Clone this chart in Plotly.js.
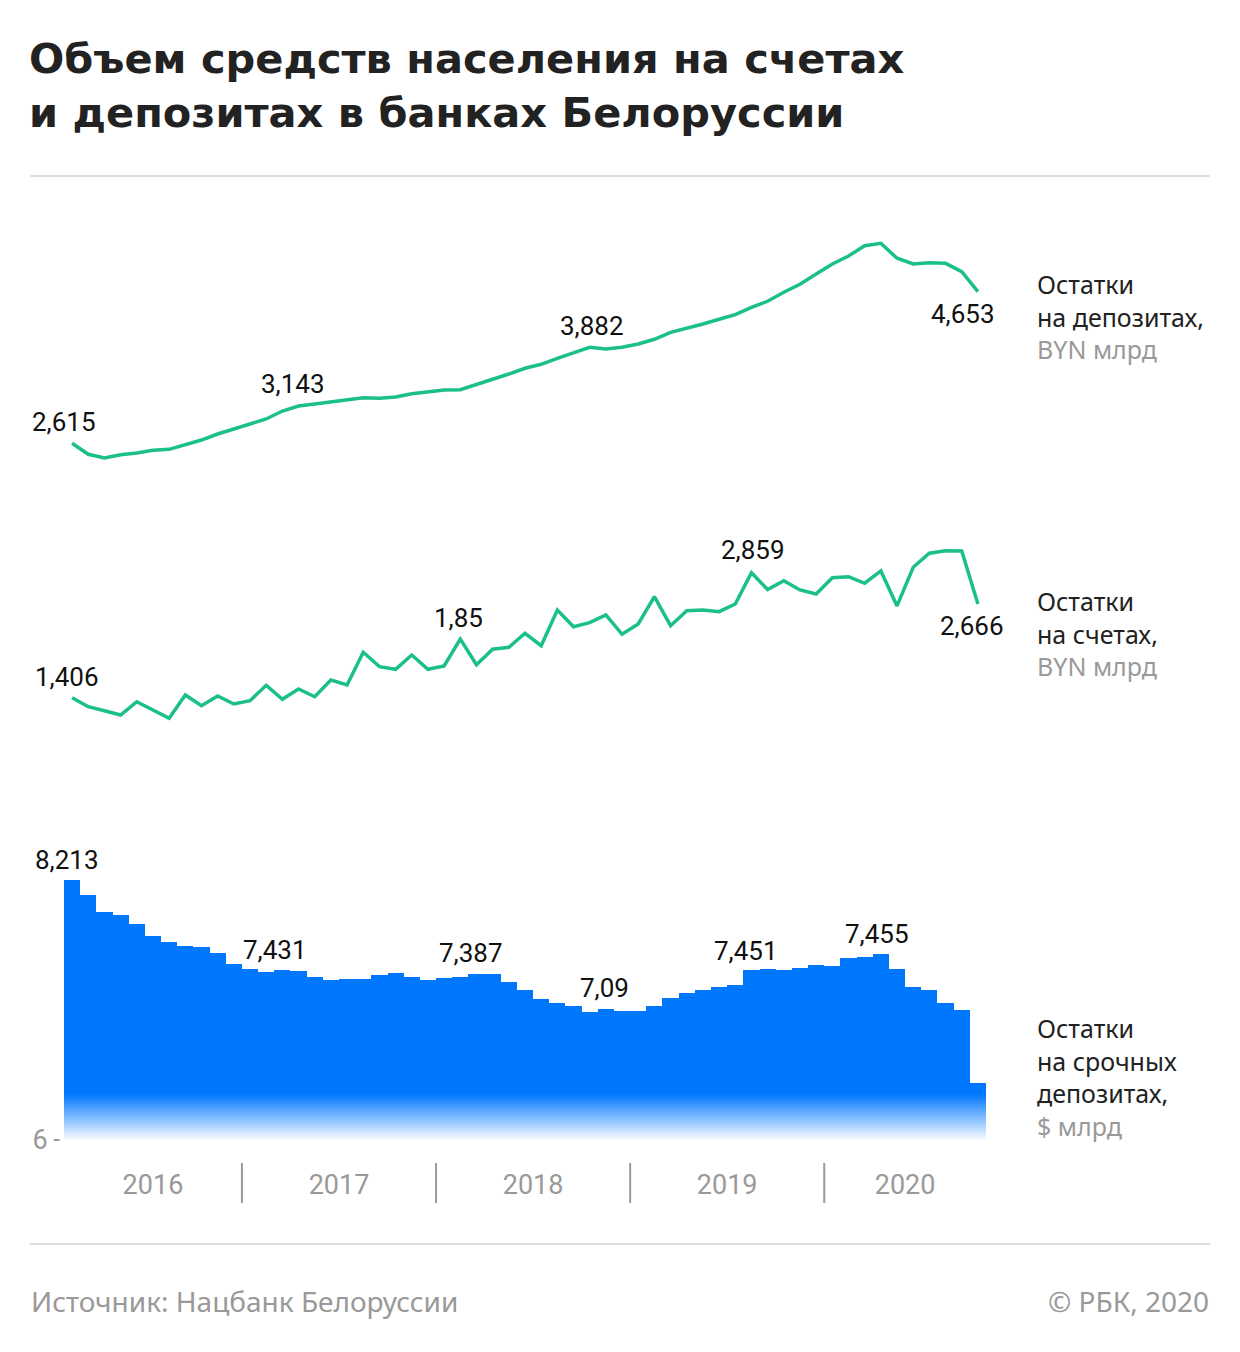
<!DOCTYPE html>
<html>
<head>
<meta charset="utf-8">
<script src="https://cdn.plot.ly/plotly-3.0.1.min.js"></script>
<style>
  html, body { margin: 0; padding: 0; background: #ffffff; }
  #chart { width: 1240px; height: 1352px; }
</style>
</head>
<body>
<div id="chart"></div>
<script>
// ---------- DATA ----------
const months = [
  '2016-02','2016-03','2016-04','2016-05','2016-06','2016-07','2016-08','2016-09','2016-10','2016-11','2016-12',
  '2017-01','2017-02','2017-03','2017-04','2017-05','2017-06','2017-07','2017-08','2017-09','2017-10','2017-11','2017-12',
  '2018-01','2018-02','2018-03','2018-04','2018-05','2018-06','2018-07','2018-08','2018-09','2018-10','2018-11','2018-12',
  '2019-01','2019-02','2019-03','2019-04','2019-05','2019-06','2019-07','2019-08','2019-09','2019-10','2019-11','2019-12',
  '2020-01','2020-02','2020-03','2020-04','2020-05','2020-06','2020-07','2020-08','2020-09','2020-10'
];

// Остатки на депозитах, BYN млрд
const deposits = [
  2.615, 2.467, 2.417, 2.462, 2.485, 2.521, 2.534, 2.592, 2.659, 2.740,
  2.811, 2.878, 2.942, 3.049, 3.116, 3.143, 3.170, 3.206, 3.228, 3.220,
  3.237, 3.282, 3.309, 3.331, 3.335, 3.403, 3.475, 3.546, 3.623, 3.677,
  3.757, 3.825, 3.905, 3.882, 3.905, 3.950, 4.013, 4.107, 4.161, 4.218,
  4.282, 4.344, 4.443, 4.524, 4.645, 4.752, 4.891, 5.025, 5.133, 5.271,
  5.303, 5.102, 5.025, 5.043, 5.034, 4.922, 4.653
];

// Остатки на счетах, BYN млрд
const accounts = [
  1.406, 1.285, 1.231, 1.173, 1.352, 1.241, 1.129, 1.442, 1.298, 1.429,
  1.321, 1.366, 1.573, 1.384, 1.523, 1.419, 1.644, 1.577, 2.016, 1.823,
  1.788, 1.980, 1.788, 1.832, 2.195, 1.850, 2.057, 2.083, 2.272, 2.105,
  2.585, 2.360, 2.414, 2.518, 2.258, 2.397, 2.763, 2.374, 2.575, 2.585,
  2.562, 2.665, 3.086, 2.859, 2.979, 2.854, 2.800, 3.019, 3.032, 2.944,
  3.109, 2.639, 3.159, 3.347, 3.382, 3.378, 2.666
];

// Остатки на срочных депозитах, $ млрд
const termDeposits = [
  8.213, 8.085, 7.943, 7.915, 7.836, 7.734, 7.682, 7.654, 7.640, 7.589,
  7.498, 7.453, 7.431, 7.450, 7.436, 7.390, 7.364, 7.373, 7.367, 7.407,
  7.424, 7.390, 7.364, 7.379, 7.387, 7.410, 7.410, 7.345, 7.277, 7.200,
  7.163, 7.143, 7.090, 7.112, 7.098, 7.098, 7.140, 7.209, 7.254, 7.277,
  7.305, 7.319, 7.451, 7.453, 7.447, 7.464, 7.487, 7.483, 7.546, 7.560,
  7.580, 7.455, 7.305, 7.274, 7.163, 7.106, 6.482
];

const years = ['2016', '2017', '2018', '2019', '2020'];

// indices of labelled points
const depositsLabelIdx = [0, 15, 33, 56];
const accountsLabelIdx = [0, 25, 43, 56];
const termLabelIdx = [0, 12, 24, 32, 42, 51];

const seriesNames = [
  'Остатки<br>на депозитах,<br><span style="color:#999999">BYN млрд</span>',
  'Остатки<br>на счетах,<br><span style="color:#999999">BYN млрд</span>',
  'Остатки<br>на срочных<br>депозитах,<br><span style="color:#999999">$ млрд</span>'
];
const titleText = 'Объем средств населения на счетах<br>и депозитах в банках Белоруссии';
const sourceText = 'Источник: Нацбанк Белоруссии';
const copyrightText = '© РБК, 2020';

// ---------- LAYOUT HELPERS ----------
const xIdx = months.map((m, i) => i);
const fmt = v => String(v).replace('.', ',');

const GREEN = '#1bbf8a';
const BLUE = '#0077ff';
const GREY = '#999999';
const DARK = '#222222';
const FONT = 'Roboto, "Noto Sans", sans-serif';
const TFONT = '"Noto Sans", Roboto, sans-serif';

// plot area: x 64..986 px, y 200..1160 px
const W = 1240, H = 1352, ML = 64, MR = 254, MT = 200, MB = 192;
const plotH = H - MT - MB;                 // 960
const py = p => (H - MB - p) / plotH;      // pixel y -> paper y
const plotW = W - ML - MR;                 // 922
const px = p => (p - ML) / plotW;          // pixel x -> paper x

const traces = [
  {
    type: 'bar', x: xIdx, y: termDeposits,
    marker: { color: BLUE, line: { width: 0 } },
    xaxis: 'x', yaxis: 'y', hovertext: months, hoverinfo: 'text+y',
    width: 1
  },
  {
    type: 'scatter', mode: 'lines', x: xIdx, y: accounts,
    line: { color: GREEN, width: 3.5 },
    xaxis: 'x', yaxis: 'y2', cliponaxis: false, hovertext: months
  },
  {
    type: 'scatter', mode: 'lines', x: xIdx, y: deposits,
    line: { color: GREEN, width: 3.5 },
    xaxis: 'x', yaxis: 'y3', cliponaxis: false, hovertext: months
  }
];

const annotations = [];
const labelFont = { family: FONT, size: 26, color: '#111111' };

const depShift = [[-8, 21], [-22, 20], [-14, 23], [-15, -22]];
depositsLabelIdx.forEach((i, k) => annotations.push({
  x: i, y: deposits[i], xref: 'x', yref: 'y3', text: fmt(deposits[i]),
  showarrow: false, xshift: depShift[k][0], yshift: depShift[k][1], font: labelFont
}));
const accShift = [[-5, 21], [-18, 47], [-15, 40], [-6, -22]];
accountsLabelIdx.forEach((i, k) => annotations.push({
  x: i, y: accounts[i], xref: 'x', yref: 'y2', text: fmt(accounts[i]),
  showarrow: false, xshift: accShift[k][0], yshift: accShift[k][1], font: labelFont
}));
const termShift = [[-5, 20], [9, 22], [11, 24], [15, 24], [-5, 19], [-20, 35]];
termLabelIdx.forEach((i, k) => annotations.push({
  x: i, y: termDeposits[i], xref: 'x', yref: 'y', text: fmt(termDeposits[i]),
  showarrow: false, xshift: termShift[k][0], yshift: termShift[k][1], font: labelFont
}));

// right-side series names
const nameY = [317, 633, 1077];
seriesNames.forEach((t, k) => annotations.push({
  x: px(1035), y: py(nameY[k]), xref: 'paper', yref: 'paper',
  xanchor: 'left', yanchor: 'middle', align: 'left', showarrow: false,
  text: t, font: { family: TFONT, size: 25, color: DARK }
}));

// footer
annotations.push({
  x: px(29), y: py(1301), xref: 'paper', yref: 'paper', xanchor: 'left', yanchor: 'middle',
  showarrow: false, text: sourceText, font: { family: TFONT, size: 28, color: GREY }
});
annotations.push({
  x: px(1211), y: py(1301), xref: 'paper', yref: 'paper', xanchor: 'right', yanchor: 'middle',
  showarrow: false, text: copyrightText, font: { family: TFONT, size: 28, color: GREY }
});

// shapes: horizontal rules and year separators
const shapes = [
  { type: 'line', xref: 'paper', yref: 'paper', x0: px(30), x1: px(1210), y0: py(176), y1: py(176),
    line: { color: '#dddddd', width: 2 } },
  { type: 'line', xref: 'paper', yref: 'paper', x0: px(30), x1: px(1210), y0: py(1244), y1: py(1244),
    line: { color: '#dddddd', width: 2 } }
];
[10.5, 22.5, 34.5, 46.5].forEach(xv => shapes.push({
  type: 'line', xref: 'x', yref: 'paper', x0: xv, x1: xv, y0: py(1163), y1: py(1203),
  line: { color: GREY, width: 2 }
}));

// bottom fade of the bars
const gradSvg = "<svg xmlns='http://www.w3.org/2000/svg' width='100' height='100' viewBox='0 0 100 100' preserveAspectRatio='none'>" +
  "<defs><linearGradient id='g' x1='0' y1='0' x2='0' y2='1'>" +
  "<stop offset='0' stop-color='#ffffff' stop-opacity='0'/>" +
  "<stop offset='1' stop-color='#ffffff' stop-opacity='1'/>" +
  "</linearGradient></defs><rect x='0' y='0' width='100' height='100' fill='url(#g)'/></svg>";

const layout = {
  width: W, height: H,
  margin: { l: ML, r: MR, t: MT, b: MB, pad: 0 },
  paper_bgcolor: '#ffffff', plot_bgcolor: 'rgba(0,0,0,0)',
  showlegend: false,
  bargap: 0,
  title: {
    text: titleText,
    font: { family: '"DejaVu Sans", Inter, sans-serif', size: 41.5, weight: 'bold', color: DARK },
    xref: 'container', yref: 'container',
    x: 29 / W, xanchor: 'left',
    y: 1 - 73 / H, yanchor: 'top'
  },
  xaxis: {
    type: 'linear', range: [-0.5, 56.5], domain: [0, 1], anchor: 'free', position: 0,
    showgrid: false, zeroline: false, showline: false, ticks: '',
    tickmode: 'array', tickvals: [5, 16.5, 28.5, 40.5, 51.5], ticktext: years,
    tickfont: { family: FONT, size: 27, color: GREY },
    ticklabelstandoff: 6
  },
  yaxis: {
    domain: [py(1140), py(840)], range: [6, 8.5532], anchor: 'x',
    showgrid: false, zeroline: false, showline: false,
    tickmode: 'array', tickvals: [6], ticktext: ['6'],
    ticks: 'outside', ticklen: 9, tickwidth: 1.5, tickcolor: GREY,
    tickfont: { family: FONT, size: 27, color: GREY }, ticklabelstandoff: 1
  },
  yaxis2: {
    domain: [py(740), py(520)], range: [0.8375, 3.7940], anchor: 'x',
    visible: false, showgrid: false, zeroline: false
  },
  yaxis3: {
    domain: [py(480), py(220)], range: [2.1217, 5.6163], anchor: 'x',
    visible: false, showgrid: false, zeroline: false
  },
  annotations: annotations,
  shapes: shapes,
  images: [{
    source: 'data:image/svg+xml;charset=utf-8,' + encodeURIComponent(gradSvg),
    xref: 'paper', yref: 'paper',
    x: -0.005, y: py(1094), sizex: 1.01, sizey: (1141 - 1094) / plotH,
    xanchor: 'left', yanchor: 'top', sizing: 'stretch', layer: 'above', opacity: 1
  }]
};

Plotly.newPlot('chart', traces, layout, { displayModeBar: false, staticPlot: true });
</script>
</body>
</html>
